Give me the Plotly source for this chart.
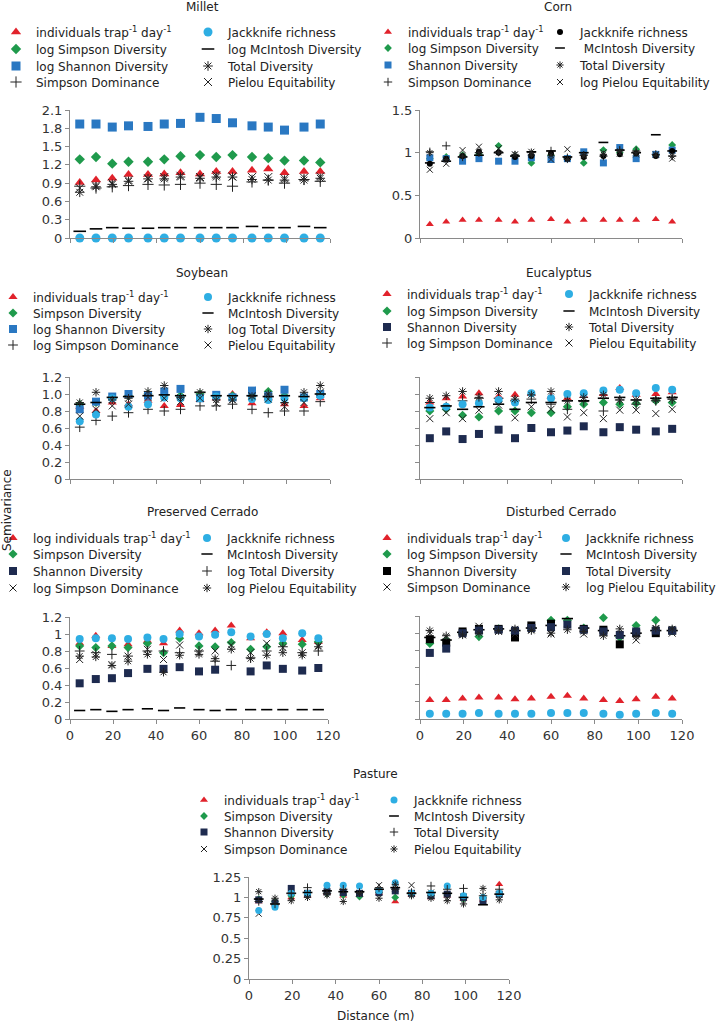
import plotly.graph_objects as go

W, H = 717, 1024

# ---------------- data ----------------
distance = [4.5, 12, 19.5, 27, 36, 43.5, 51, 60, 67.5, 75, 84, 91.5, 99, 108, 115.5]

# Millet
millet_names = ["individuals trap<sup>-1</sup> day<sup>-1</sup>", "log Simpson Diversity", "log Shannon Diversity",
                "Simpson Dominance", "Jackknife richness", "log McIntosh Diversity", "Total Diversity",
                "Pielou Equitability"]
millet_individuals = [0.91, 0.95, 0.98, 1.04, 1.04, 1.05, 1.07, 1.05, 1.09, 1.09, 1.11, 1.13, 1.07, 1.09, 1.09]
millet_simpson = [1.29, 1.33, 1.22, 1.25, 1.25, 1.29, 1.34, 1.36, 1.33, 1.36, 1.33, 1.31, 1.27, 1.27, 1.24]
millet_shannon = [1.87, 1.87, 1.82, 1.84, 1.83, 1.87, 1.88, 1.98, 1.96, 1.89, 1.84, 1.82, 1.77, 1.82, 1.87]
millet_dominance = [0.85, 0.82, 0.84, 0.86, 0.88, 0.87, 0.88, 0.90, 0.88, 0.85, 0.92, 0.95, 0.90, 0.96, 0.93]
millet_jackknife = [0.0] * 15
millet_mcintosh = [0.11, 0.15, 0.17, 0.16, 0.16, 0.17, 0.17, 0.17, 0.17, 0.17, 0.19, 0.17, 0.17, 0.19, 0.17]
millet_total = [0.75, 0.84, 0.88, 0.93, 0.97, 0.97, 1.00, 0.98, 1.00, 1.00, 0.96, 0.95, 0.95, 0.95, 0.98]
millet_pielou = [0.82, 0.86, 0.90, 0.95, 0.98, 1.00, 1.02, 1.00, 1.03, 1.01, 1.00, 1.00, 0.98, 0.99, 1.01]

# Corn
corn_names = ["individuals trap<sup>-1</sup> day<sup>-1</sup>", "log Simpson Diversity", "Shannon Diversity",
              "Simpson Dominance", "Jackknife richness", " McIntosh Diversity", "Total Diversity",
              "log Pielou Equitability"]
corn_individuals = [0.16, 0.19, 0.21, 0.21, 0.21, 0.19, 0.21, 0.22, 0.19, 0.21, 0.21, 0.21, 0.21, 0.22, 0.19]
corn_simpson = [0.93, 0.95, 0.97, 0.98, 1.08, 0.96, 0.88, 0.97, 0.93, 0.88, 1.03, 1.00, 1.04, 0.97, 1.09]
corn_shannon = [0.94, 0.93, 0.90, 0.93, 0.90, 0.90, 0.94, 0.92, 0.93, 1.01, 0.88, 1.06, 0.93, 0.98, 1.03]
corn_dominance = [1.01, 1.08, 0.95, 1.00, 1.01, 0.97, 1.00, 1.02, 0.94, 0.97, 0.96, 1.03, 1.02, 0.98, 0.96]
corn_jackknife = [0.87, 0.93, 0.96, 1.01, 1.00, 0.95, 0.96, 0.99, 0.93, 0.95, 0.96, 0.98, 0.99, 0.96, 1.02]
corn_mcintosh = [0.88, 0.90, 0.95, 0.97, 1.00, 0.96, 1.01, 1.02, 0.95, 1.00, 1.12, 1.03, 1.00, 1.21, 1.02]
corn_total = [1.00, 0.92, 0.96, 1.00, 1.00, 0.98, 0.97, 0.97, 0.92, 0.97, 0.98, 1.02, 1.00, 0.97, 0.96]
corn_pielou = [0.80, 0.87, 1.03, 1.07, 1.05, 0.98, 1.01, 0.92, 1.04, 0.96, 1.00, 0.99, 0.98, 0.98, 0.93]

# Soybean
soy_names = ["individuals trap<sup>-1</sup> day<sup>-1</sup>", "Simpson Diversity", "log Shannon Diversity",
             "log Simpson Dominance", "Jackknife richness", "McIntosh Diversity", "log Total Diversity",
             "Pielou Equitability"]
soy_individuals = [0.85, 0.80, 0.90, 0.88, 0.92, 0.86, 0.87, 0.93, 0.95, 1.00, 0.89, 0.95, 0.88, 0.86, 0.95]
soy_simpson = [0.88, 0.90, 0.95, 0.98, 1.00, 0.98, 0.98, 1.00, 0.97, 0.98, 0.98, 1.03, 0.98, 0.97, 1.00]
soy_shannon = [0.82, 0.91, 0.97, 1.00, 0.98, 1.03, 1.06, 0.95, 0.99, 0.96, 1.04, 0.98, 1.05, 0.96, 1.00]
soy_dominance = [0.61, 0.69, 0.74, 0.78, 0.82, 0.80, 0.82, 0.86, 0.86, 0.88, 0.82, 0.78, 0.80, 0.80, 0.91]
soy_jackknife = [0.68, 0.76, 0.95, 0.85, 0.88, 0.96, 0.95, 0.95, 0.97, 0.96, 0.94, 0.93, 0.95, 0.95, 0.98]
soy_mcintosh = [0.88, 0.90, 0.96, 0.97, 0.98, 0.99, 0.98, 1.02, 0.98, 0.98, 0.98, 0.97, 0.98, 0.97, 1.00]
soy_total = [0.90, 1.02, 0.93, 0.95, 1.03, 1.10, 0.96, 1.02, 0.93, 0.93, 0.97, 1.00, 0.90, 1.02, 1.10]
soy_pielou = [0.74, 0.82, 0.86, 0.88, 0.96, 0.95, 0.91, 0.95, 0.89, 0.93, 0.98, 0.94, 0.85, 0.90, 1.02]

# Eucalyptus
euc_names = ["individuals trap<sup>-1</sup> day<sup>-1</sup>", "log Simpson Diversity", "Shannon Diversity",
             "log Simpson Dominance", "Jackknife richness", "McIntosh Diversity", "Total Diversity",
             "Pielou Equitability"]
euc_individuals = [0.90, 0.95, 0.97, 1.01, 0.97, 0.99, 1.00, 0.97, 0.95, 0.98, 1.00, 1.07, 0.99, 1.00, 1.02]
euc_simpson = [0.80, 0.82, 0.75, 0.73, 0.80, 0.80, 0.78, 0.78, 0.85, 0.88, 0.90, 0.88, 0.89, 0.92, 0.90]
euc_shannon = [0.48, 0.56, 0.47, 0.53, 0.58, 0.48, 0.60, 0.55, 0.57, 0.62, 0.55, 0.61, 0.58, 0.56, 0.59]
euc_dominance = [0.90, 0.85, 0.92, 0.95, 0.95, 0.92, 0.94, 0.88, 0.82, 0.91, 0.80, 0.93, 0.88, 0.92, 0.94]
euc_jackknife = [0.84, 0.85, 0.88, 0.89, 0.93, 0.90, 1.01, 0.95, 1.00, 1.01, 1.04, 1.05, 1.01, 1.07, 1.05]
euc_mcintosh = [0.84, 0.86, 0.82, 0.85, 0.88, 0.82, 0.90, 0.90, 0.92, 0.92, 0.95, 0.96, 0.93, 0.95, 0.96]
euc_total = [0.95, 0.98, 1.03, 0.96, 1.03, 0.94, 0.99, 1.03, 0.92, 0.96, 0.99, 0.93, 0.93, 0.93, 0.94]
euc_pielou = [0.71, 0.78, 0.71, 0.81, 0.87, 0.72, 0.85, 0.82, 0.73, 0.78, 0.71, 0.81, 0.81, 0.77, 0.82]

# Preserved Cerrado
pc_names = ["log individuals trap<sup>-1</sup> day<sup>-1</sup>", "Simpson Diversity", "Shannon Diversity",
            "log Simpson Dominance", "Jackknife richness", "McIntosh Diversity", "log Total Diversity",
            "log Pielou Equitability"]
pc_individuals = [0.89, 0.98, 0.86, 0.88, 0.92, 0.89, 1.04, 1.01, 1.04, 1.10, 0.95, 1.02, 1.01, 0.93, 0.91]
pc_simpson = [0.86, 0.84, 0.86, 0.84, 0.89, 0.78, 0.95, 0.86, 0.85, 0.90, 0.82, 0.85, 0.89, 0.88, 0.91]
pc_shannon = [0.42, 0.47, 0.48, 0.54, 0.59, 0.59, 0.61, 0.56, 0.58, None, 0.56, 0.63, 0.59, 0.57, 0.60]
pc_dominance = [0.70, 0.76, 0.64, 0.74, 0.82, 0.70, 0.87, 0.78, 0.80, 0.87, 0.78, 0.89, 0.84, 0.78, 0.86]
pc_jackknife = [0.94, 0.95, 0.95, 0.94, 0.96, 0.94, 1.00, 0.97, 0.99, 1.02, 0.97, 1.00, 0.95, 1.01, 0.95]
pc_mcintosh = [0.10, 0.11, 0.09, 0.11, 0.12, 0.10, 0.13, 0.11, 0.10, 0.11, 0.11, 0.11, 0.11, 0.11, 0.11]
pc_total = [0.80, 0.78, 0.76, 0.74, 0.80, 0.80, 0.78, 0.80, 0.68, 0.63, 0.72, 0.80, 0.85, 0.78, 0.80]
pc_pielou = [0.74, 0.73, 0.63, 0.68, 0.76, 0.55, 0.75, 0.76, 0.71, 0.82, 0.71, 0.75, 0.78, 0.75, 0.85]

# Disturbed Cerrado
dc_names = ["individuals trap<sup>-1</sup> day<sup>-1</sup>", "log Simpson Diversity", "Shannon Diversity",
            "Simpson Dominance", "Jackknife richness", "McIntosh Diversity", "Total Diversity",
            "log Pielou Equitability"]
dc_individuals = [0.22, 0.22, 0.24, 0.25, 0.25, 0.23, 0.24, 0.26, 0.27, 0.24, 0.22, 0.21, 0.23, 0.26, 0.24]
dc_simpson = [0.88, 0.92, 1.00, 0.96, 1.05, 1.00, 1.06, 1.15, 1.15, 1.06, 1.18, 0.95, 1.09, 1.15, 1.03]
dc_shannon = [0.93, 0.89, 1.02, 1.05, 1.05, 0.95, 1.09, 1.11, 1.22, 1.05, 1.04, 0.87, 1.00, 1.00, 1.03]
dc_dominance = [1.00, 0.95, 0.98, 1.08, 1.02, 0.99, 1.04, 0.99, 1.10, 0.99, 1.00, 0.97, 0.92, 1.05, 1.00]
dc_jackknife = [0.06, 0.06, 0.06, 0.07, 0.06, 0.06, 0.06, 0.07, 0.07, 0.07, 0.06, 0.05, 0.06, 0.07, 0.06]
dc_mcintosh = [0.95, 0.92, 1.01, 1.04, 1.05, 1.03, 1.06, 1.09, 1.17, 1.06, 1.03, 0.97, 1.00, 1.03, 1.03]
dc_total = [0.77, 0.82, 1.00, 1.03, 1.04, 1.03, 1.06, 1.07, 1.10, 1.04, 1.02, 0.98, 1.02, 1.03, 1.03]
dc_pielou = [1.03, 0.97, 0.98, 1.00, 1.03, 1.05, 1.03, 1.00, 1.04, 1.02, 0.97, 1.05, 0.96, 1.06, 1.05]

# Pasture
pa_names = ["individuals trap<sup>-1</sup> day<sup>-1</sup>", "Simpson Diversity", "Shannon Diversity",
            "Simpson Dominance", "Jackknife richness", "McIntosh Diversity", "Total Diversity",
            "Pielou Equitability"]
pa_individuals = [0.95, 0.93, 1.00, 1.02, 1.05, 1.02, 1.03, 1.05, 0.95, 1.03, 1.00, 1.02, 0.98, 0.97, 1.16]
pa_simpson = [0.98, 0.95, 1.02, 1.03, 1.05, 1.03, 1.01, 1.06, 1.00, 1.04, 1.02, 1.03, 0.98, 1.00, 1.04]
pa_shannon = [0.97, 0.93, 1.11, 1.05, 1.07, 1.06, 1.05, 1.06, 1.08, 1.05, 1.02, 1.04, 1.00, 0.96, 1.04]
pa_dominance = [0.80, 0.95, 1.00, 1.05, 1.09, 1.08, 1.05, 1.15, 1.11, 1.15, 1.06, 0.99, 1.01, 1.02, 1.03]
pa_jackknife = [0.84, 0.88, 1.05, 1.05, 1.15, 1.15, 1.14, 1.08, 1.18, 1.05, 1.05, 1.14, 1.02, 1.00, 1.05]
pa_mcintosh = [0.98, 0.92, 1.05, 1.06, 1.08, 1.07, 1.07, 1.10, 1.12, 1.05, 1.06, 1.05, 1.00, 0.91, 1.04]
pa_total = [0.95, 0.92, 1.05, 1.12, 1.05, 1.10, 1.06, 1.12, 1.10, 1.06, 1.14, 1.10, 1.11, 1.02, 1.10]
pa_pielou = [1.07, 0.99, 0.96, 1.00, 1.03, 0.95, 1.05, 0.99, 1.16, 1.02, 0.99, 0.96, 0.92, 1.11, 0.97]

# tick labels
x_tickvals = [0, 20, 40, 60, 80, 100, 120]
millet_yticks = [0, 0.3, 0.6, 0.9, 1.2, 1.5, 1.8, 2.1]
millet_yticktext = ["0", "0.3", "0.6", "0.9", "1.2", "1.5", "1.8", "2.1"]
corn_yticks = [0, 0.5, 1, 1.5]
corn_yticktext = ["0", "0.5", "1", "1.5"]
soy_yticks = [0, 0.2, 0.4, 0.6, 0.8, 1.0, 1.2]
soy_yticktext = ["0", "0.2", "0.4", "0.6", "0.8", "1.0", "1.2"]
pc_yticks = [0, 0.2, 0.4, 0.6, 0.8, 1.0, 1.2]
pc_yticktext = ["0", "0.2", "0.4", "0.6", "0.8", "1", "1.2"]
pa_yticks = [0, 0.25, 0.5, 0.75, 1, 1.25]
pa_yticktext = ["0", "0.25", "0.5", "0.75", "1", "1.25"]

# ---------------- styles ----------------
RED = "#e1222b"
GREEN = "#1f9a4c"
BLUE = "#2a78c2"
NAVY = "#1e2b4f"
CYAN = "#2eaee3"
FONT = "DejaVu Sans"


def marker(kind, s):
    if kind == "tri":
        return dict(symbol="triangle-up", color=RED, size=s, line=dict(width=0))
    if kind == "dia":
        return dict(symbol="diamond", color=GREEN, size=s - 1, line=dict(width=0))
    if kind == "sq_blue":
        return dict(symbol="square", color=BLUE, size=s, line=dict(width=0))
    if kind == "sq_navy":
        return dict(symbol="square", color=NAVY, size=s, line=dict(width=0))
    if kind == "sq_black":
        return dict(symbol="square", color="black", size=s, line=dict(width=0))
    if kind == "circ_cyan":
        return dict(symbol="circle", color=CYAN, size=s, line=dict(width=0))
    if kind == "circ_black":
        return dict(symbol="circle", color="black", size=s - 1, line=dict(width=0))
    if kind == "dash":
        return dict(symbol="line-ew-open", color="black", size=s, line=dict(width=1.6, color="black"))
    if kind == "aster":
        return dict(symbol="asterisk-open", color="#222", size=s - 1, line=dict(width=1, color="#222"))
    if kind == "x":
        return dict(symbol="x-thin-open", color="#222", size=s - 1, line=dict(width=1, color="#222"))
    if kind == "plus":
        return dict(symbol="cross-thin-open", color="#222", size=s - 1, line=dict(width=1, color="#222"))


panels = [
    dict(title="Millet", title_xy=(202, 7), dx=(70, 330), dy=(110, 238), yr=[0, 2.1],
         yt=millet_yticks, ytt=millet_yticktext, ylab=True, xlab=False, ms=9,
         leg_x=(36, 228), leg_y=[32, 49, 66, 82],
         series=[(millet_names[0], millet_individuals, "tri"), (millet_names[1], millet_simpson, "dia"),
                 (millet_names[2], millet_shannon, "sq_blue"), (millet_names[3], millet_dominance, "plus"),
                 (millet_names[4], millet_jackknife, "circ_cyan"), (millet_names[5], millet_mcintosh, "dash"),
                 (millet_names[6], millet_total, "aster"), (millet_names[7], millet_pielou, "x")]),
    dict(title="Corn", title_xy=(558, 7), dx=(420, 682), dy=(110, 238), yr=[0, 1.5],
         yt=corn_yticks, ytt=corn_yticktext, ylab=True, xlab=False, ms=7,
         leg_x=(408, 580), leg_y=[32, 48, 65, 82],
         series=[(corn_names[0], corn_individuals, "tri"), (corn_names[1], corn_simpson, "dia"),
                 (corn_names[2], corn_shannon, "sq_blue"), (corn_names[3], corn_dominance, "plus"),
                 (corn_names[4], corn_jackknife, "circ_black"), (corn_names[5], corn_mcintosh, "dash"),
                 (corn_names[6], corn_total, "aster"), (corn_names[7], corn_pielou, "x")]),
    dict(title="Soybean", title_xy=(202, 273), dx=(70, 330), dy=(377, 479), yr=[0, 1.2],
         yt=soy_yticks, ytt=soy_yticktext, ylab=True, xlab=False, ms=8,
         leg_x=(33, 228), leg_y=[297, 313, 329, 345],
         series=[(soy_names[0], soy_individuals, "tri"), (soy_names[1], soy_simpson, "dia"),
                 (soy_names[2], soy_shannon, "sq_blue"), (soy_names[3], soy_dominance, "plus"),
                 (soy_names[4], soy_jackknife, "circ_cyan"), (soy_names[5], soy_mcintosh, "dash"),
                 (soy_names[6], soy_total, "aster"), (soy_names[7], soy_pielou, "x")]),
    dict(title="Eucalyptus", title_xy=(559, 273), dx=(420, 682), dy=(377, 479), yr=[0, 1.2],
         yt=soy_yticks, ytt=soy_yticktext, ylab=False, xlab=False, ms=8,
         leg_x=(407, 589), leg_y=[294, 311, 327, 343],
         series=[(euc_names[0], euc_individuals, "tri"), (euc_names[1], euc_simpson, "dia"),
                 (euc_names[2], euc_shannon, "sq_navy"), (euc_names[3], euc_dominance, "plus"),
                 (euc_names[4], euc_jackknife, "circ_cyan"), (euc_names[5], euc_mcintosh, "dash"),
                 (euc_names[6], euc_total, "aster"), (euc_names[7], euc_pielou, "x")]),
    dict(title="Preserved Cerrado", title_xy=(202, 512), dx=(70, 328), dy=(617, 719), yr=[0, 1.2],
         yt=pc_yticks, ytt=pc_yticktext, ylab=True, xlab=True, ms=8,
         leg_x=(33, 227), leg_y=[538, 554, 571, 588],
         series=[(pc_names[0], pc_individuals, "tri"), (pc_names[1], pc_simpson, "dia"),
                 (pc_names[2], pc_shannon, "sq_navy"), (pc_names[3], pc_dominance, "x"),
                 (pc_names[4], pc_jackknife, "circ_cyan"), (pc_names[5], pc_mcintosh, "dash"),
                 (pc_names[6], pc_total, "plus"), (pc_names[7], pc_pielou, "aster")]),
    dict(title="Disturbed Cerrado", title_xy=(561, 512), dx=(420, 682), dy=(616, 719), yr=[0, 1.2],
         yt=pc_yticks, ytt=pc_yticktext, ylab=False, xlab=True, ms=8,
         leg_x=(407, 586), leg_y=[538, 554, 571, 587],
         series=[(dc_names[0], dc_individuals, "tri"), (dc_names[1], dc_simpson, "dia"),
                 (dc_names[2], dc_shannon, "sq_black"), (dc_names[3], dc_dominance, "x"),
                 (dc_names[4], dc_jackknife, "circ_cyan"), (dc_names[5], dc_mcintosh, "dash"),
                 (dc_names[6], dc_total, "sq_navy"), (dc_names[7], dc_pielou, "aster")]),
    dict(title="Pasture", title_xy=(375, 774), dx=(249, 509), dy=(877, 979), yr=[0, 1.25],
         yt=pa_yticks, ytt=pa_yticktext, ylab=True, xlab=True, ms=7,
         leg_x=(224, 414), leg_y=[800, 816, 832, 849],
         series=[(pa_names[0], pa_individuals, "tri"), (pa_names[1], pa_simpson, "dia"),
                 (pa_names[2], pa_shannon, "sq_navy"), (pa_names[3], pa_dominance, "x"),
                 (pa_names[4], pa_jackknife, "circ_cyan"), (pa_names[5], pa_mcintosh, "dash"),
                 (pa_names[6], pa_total, "plus"), (pa_names[7], pa_pielou, "aster")]),
]


def fx(px):
    return px / W


def fy(py):
    return 1 - py / H


fig = go.Figure()
layout = dict(width=W, height=H, margin=dict(l=0, r=0, t=0, b=0, autoexpand=False),
              paper_bgcolor="white", plot_bgcolor="white", annotations=[],
              font=dict(family=FONT, size=12, color="#222"))

TEXT_GAP = 40
ITEM_GAP = 5
RIGHT_W = 145

for i, p in enumerate(panels):
    n = i + 1
    xa = "xaxis" if n == 1 else f"xaxis{n}"
    ya = "yaxis" if n == 1 else f"yaxis{n}"
    xr = "x" if n == 1 else f"x{n}"
    yr = "y" if n == 1 else f"y{n}"
    layout[xa] = dict(domain=[fx(p["dx"][0]), fx(p["dx"][1])], range=[0, 120], anchor=yr,
                      tickvals=x_tickvals, showticklabels=p["xlab"], ticks="outside", ticklen=4,
                      tickcolor="#8a8a8a", showline=True, linecolor="#8a8a8a", linewidth=1,
                      showgrid=False, zeroline=False, tickfont=dict(family=FONT, size=13, color="#333"))
    layout[ya] = dict(domain=[fy(p["dy"][1]), fy(p["dy"][0])], range=p["yr"], anchor=xr,
                      tickvals=p["yt"], ticktext=p["ytt"], showticklabels=p["ylab"], ticks="outside",
                      ticklen=4, tickcolor="#8a8a8a", showline=True, linecolor="#8a8a8a", linewidth=1,
                      showgrid=False, zeroline=False, tickfont=dict(family=FONT, size=13, color="#333"))
    spacing = p["leg_x"][1] - p["leg_x"][0]
    left_w = spacing - TEXT_GAP - ITEM_GAP
    lx = p["leg_x"][0] - TEXT_GAP
    for r in range(4):
        ln = i * 4 + r + 1
        lkey = "legend" if ln == 1 else f"legend{ln}"
        if lx >= 0:
            xpos, xanc = fx(lx), "left"
        else:
            xpos, xanc = fx(lx + left_w + RIGHT_W + 2 * TEXT_GAP + 2 * ITEM_GAP), "right"
        layout[lkey] = dict(x=xpos, xanchor=xanc, xref="paper",
                            y=fy(p["leg_y"][r]), yanchor="middle", yref="paper",
                            orientation="h", bgcolor="rgba(0,0,0,0)", borderwidth=0,
                            font=dict(family=FONT, size=12, color="#222"), traceorder="normal")
    for k, (name, vals, kind) in enumerate(p["series"]):
        row = k % 4
        ln = i * 4 + row + 1
        lkey = "legend" if ln == 1 else f"legend{ln}"
        lw = left_w if k < 4 else RIGHT_W
        fig.add_trace(go.Scatter(x=distance, y=vals, mode="markers", name=name, xaxis=xr, yaxis=yr,
                                 marker=marker(kind, p["ms"]), cliponaxis=False, legend=lkey,
                                 legendwidth=lw, showlegend=True))
    layout["annotations"].append(dict(text=p["title"], x=fx(p["title_xy"][0]), y=fy(p["title_xy"][1]),
                                      xref="paper", yref="paper", showarrow=False, xanchor="center",
                                      yanchor="middle", font=dict(family=FONT, size=12, color="#222")))

layout["annotations"].append(dict(text="Semivariance", x=fx(7), y=fy(510), xref="paper", yref="paper",
                                  showarrow=False, textangle=-90, xanchor="center", yanchor="middle",
                                  font=dict(family=FONT, size=12, color="#222")))
layout["annotations"].append(dict(text="Distance (m)", x=fx(375), y=fy(1016), xref="paper", yref="paper",
                                  showarrow=False, xanchor="center", yanchor="middle",
                                  font=dict(family=FONT, size=12, color="#222")))

fig.update_layout(**layout)
fig.write_html("out.html", config={"displayModeBar": False},
               post_script="document.body.style.margin='0';")
